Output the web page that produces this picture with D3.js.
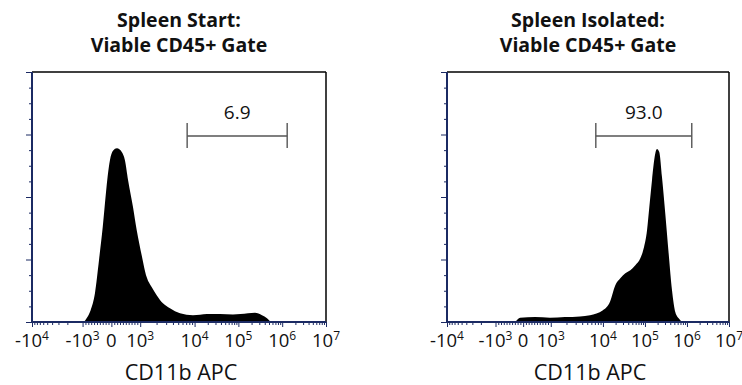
<!DOCTYPE html>
<html>
<head>
<meta charset="utf-8">
<script src="https://cdn.jsdelivr.net/npm/d3@7"></script>
<style>
  body { margin: 0; background: #fff; }
  svg { display: block; font-family: "Open Sans", "Noto Sans", sans-serif; }
</style>
</head>
<body>
<svg id="chart" width="742" height="385"></svg>
<script>
// values
const panelTitles = [["Spleen Start:", "Viable CD45+ Gate"], ["Spleen Isolated:", "Viable CD45+ Gate"]]
const gateLabels = ["6.9", "93.0"]
const gateRange = [7300, 1.3e6]
const xLabel = "CD11b APC"
const xTickValues = [-1e4, -1e3, 0, 1e3, 1e4, 1e5, 1e6, 1e7]
const xTickLabels = [["-10", "4"], ["-10", "3"], ["0", ""], ["10", "3"], ["10", "4"], ["10", "5"], ["10", "6"], ["10", "7"]]
const yMajorTicks = [0, 100, 200, 300, 400]

const startValues = [-950, -860, -720, -570, -430, -300, -190, -130, -50, 55, 195, 360, 470, 580, 750, 880, 1065, 1315, 1625, 2010, 2620, 3530, 5400, 9350, 19200, 38000, 75300, 166000, 239000, 346000, 450000, 546000]
const startCounts = [0, 6, 19, 46, 99, 152, 206, 233, 259, 274, 278, 272, 259, 227, 184, 147, 107, 72, 56, 43, 30, 22, 14, 11, 13, 13, 12, 14, 15, 11, 6, 0]

const isolatedValues = [-280, -110, 430, 970, 1870, 3630, 5650, 10000, 14800, 19700, 25900, 34100, 44900, 59000, 77600, 93300, 112000, 127000, 147000, 170000, 193000, 219000, 254000, 304000, 366000, 440000, 527000, 634000, 760000]
const isolatedCounts = [0, 7, 8, 7, 8, 9, 11, 19, 33, 59, 70, 78, 83, 91, 102, 118, 147, 184, 227, 264, 277, 272, 232, 174, 110, 51, 16, 6, 0]

const panels = [
  { title: panelTitles[0], gate: gateLabels[0], values: startValues, counts: startCounts, left: 32, right: 326 },
  { title: panelTitles[1], gate: gateLabels[1], values: isolatedValues, counts: isolatedCounts, left: 447, right: 729 }
]

const plotTop = 72, plotBottom = 322
const axisColor = '#1b2a63'
// where each decade sits across the plot width (biexponential display)
const decadeFractions = [0, 0.172, 0.270, 0.368, 0.553, 0.702, 0.851, 1]

// linear between -10^3 and 10^3, log outside
function biex (v) {
  const a = Math.abs(v)
  const t = a <= 1e3 ? a / 1e3 : 1 + Math.log10(a / 1e3)
  return Math.sign(v) * t
}

// minor ticks: log steps in each decade, 100s in the linear zone
const minorTicks = []
for (let k = 2; k <= 9; k++) minorTicks.push(-k * 1e3)
for (let v = -900; v <= 900; v += 100) if (v !== 0) minorTicks.push(v)
for (let d = 3; d <= 6; d++) for (let k = 2; k <= 9; k++) minorTicks.push(k * Math.pow(10, d))
const yMinorTicks = d3.range(0, 401, 25).filter(v => v % 100 !== 0)

const svg = d3.select('#chart')

panels.forEach(function (p) {
  const xs = d3.scaleLinear()
    .domain([-2, -1, 0, 1, 2, 3, 4, 5])
    .range(decadeFractions.map(f => p.left + f * (p.right - p.left)))
  const x = v => xs(biex(v))
  const y = d3.scaleLinear().domain([0, 400]).range([plotBottom, plotTop])
  const cx = (p.left + p.right) / 2

  const g = svg.append('g')

  // titles
  p.title.forEach(function (line, i) {
    g.append('text')
      .attr('x', cx).attr('y', 27 + i * 25)
      .attr('text-anchor', 'middle')
      .attr('font-size', 19.5).attr('font-weight', 'bold').attr('fill', '#111')
      .text(line)
  })

  // histogram
  const rows = p.values.map((v, i) => ({ v: v, c: p.counts[i] }))
  const area = d3.area()
    .x(d => x(d.v))
    .y0(y(0))
    .y1(d => y(d.c))
    .curve(d3.curveMonotoneX)
  g.append('path').datum(rows).attr('d', area).attr('fill', '#000')

  // frame: top and right in black
  g.append('line').attr('x1', p.left).attr('x2', p.right).attr('y1', plotTop).attr('y2', plotTop)
    .attr('stroke', '#000').attr('stroke-width', 1.5)
  g.append('line').attr('x1', p.right).attr('x2', p.right).attr('y1', plotTop).attr('y2', plotBottom)
    .attr('stroke', '#000').attr('stroke-width', 1.5)

  // x axis, major + minor ticks (positions come from x())
  const xAxisG = g.append('g').attr('transform', 'translate(0,' + plotBottom + ')')
  const ident = d3.scaleIdentity()
  xAxisG.append('g').call(d3.axisBottom(ident).tickValues(minorTicks.map(x)).tickSize(3).tickSizeOuter(0).tickFormat(''))
  xAxisG.append('g').call(d3.axisBottom(ident).tickValues(xTickValues.map(x)).tickSize(5).tickSizeOuter(0).tickFormat(''))
  xAxisG.selectAll('path.domain').remove()
  xAxisG.selectAll('line').attr('stroke', axisColor)
  xAxisG.append('line').attr('x1', p.left).attr('x2', p.right).attr('stroke', axisColor).attr('stroke-width', 2)

  // tick labels with superscript exponent
  xTickValues.forEach(function (v, i) {
    const t = g.append('text')
      .attr('x', x(v)).attr('y', 347)
      .attr('text-anchor', 'middle')
      .attr('font-size', 18.5).attr('fill', '#111')
    t.append('tspan').text(xTickLabels[i][0])
    if (xTickLabels[i][1]) {
      t.append('tspan').attr('dy', -7).attr('font-size', 12).text(xTickLabels[i][1])
    }
  })

  // y axis, no labels
  const yAxisG = g.append('g').attr('transform', 'translate(' + p.left + ',0)')
  yAxisG.append('g').call(d3.axisLeft(y).tickValues(yMinorTicks).tickSize(3).tickSizeOuter(0).tickFormat(''))
  yAxisG.append('g').call(d3.axisLeft(y).tickValues(yMajorTicks).tickSize(6).tickSizeOuter(0).tickFormat(''))
  yAxisG.selectAll('path.domain').remove()
  yAxisG.selectAll('line').attr('stroke', axisColor)
  yAxisG.append('line').attr('y1', plotTop).attr('y2', plotBottom).attr('stroke', axisColor).attr('stroke-width', 2)

  // gate marker
  const gx0 = x(gateRange[0]), gx1 = x(gateRange[1])
  const gy = plotTop + 64
  const gate = g.append('g').attr('stroke', '#555').attr('stroke-width', 1.4)
  gate.append('line').attr('x1', gx0).attr('x2', gx1).attr('y1', gy).attr('y2', gy)
  gate.append('line').attr('x1', gx0).attr('x2', gx0).attr('y1', gy - 13).attr('y2', gy + 12)
  gate.append('line').attr('x1', gx1).attr('x2', gx1).attr('y1', gy - 13).attr('y2', gy + 12)
  g.append('text')
    .attr('x', (gx0 + gx1) / 2).attr('y', 118.5)
    .attr('text-anchor', 'middle')
    .attr('font-size', 19).attr('fill', '#111')
    .text(p.gate)

  // x axis title
  g.append('text')
    .attr('x', cx + 2).attr('y', 380)
    .attr('text-anchor', 'middle')
    .attr('font-size', 21.5).attr('fill', '#111')
    .text(xLabel)
})
</script>
</body>
</html>
